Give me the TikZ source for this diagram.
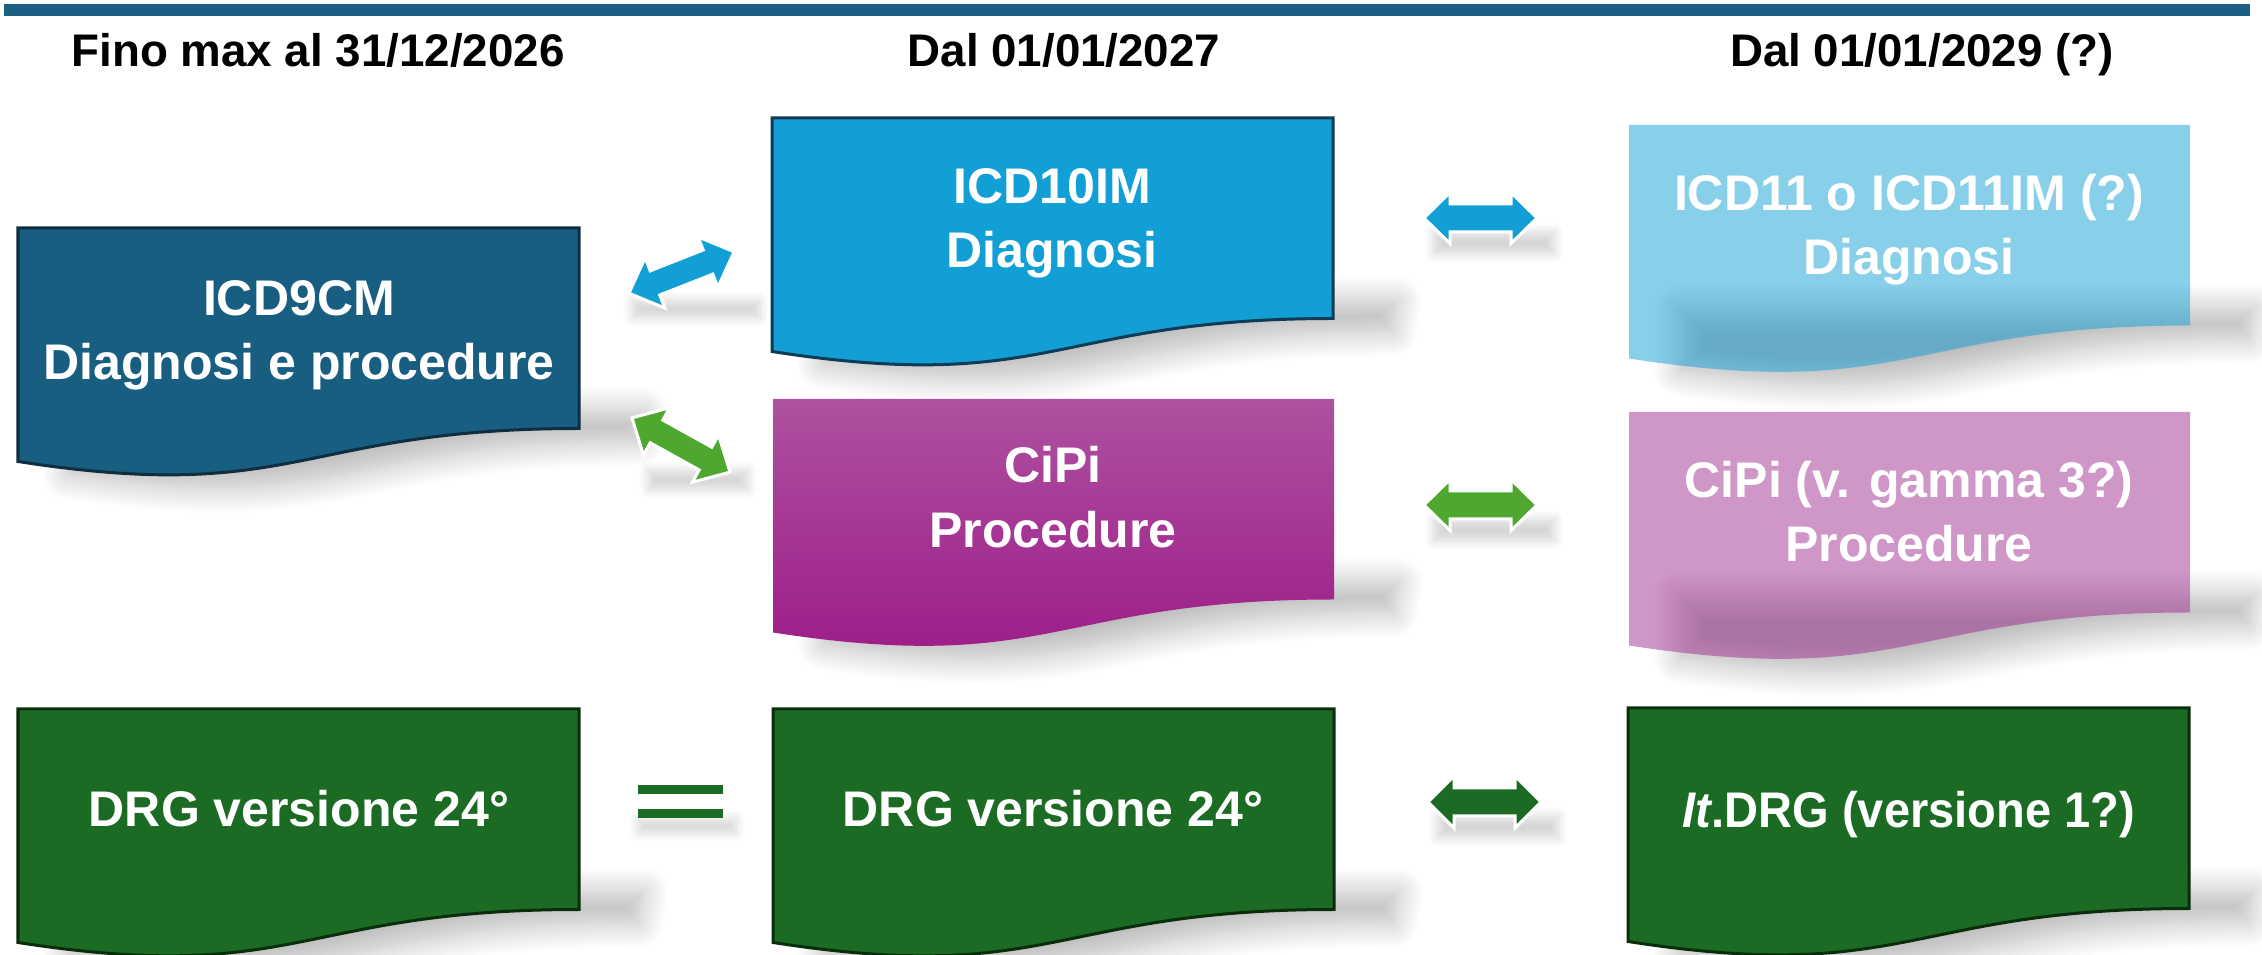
\documentclass[tikz,border=0pt]{standalone}
\usepackage{fontspec}
\setmainfont{Liberation Sans}
\usepackage{graphicx}
\usetikzlibrary{shadows.blur}
\definecolor{bar}{HTML}{1B5F82}
\definecolor{c1}{HTML}{185E80}
\definecolor{c1d}{HTML}{0F2E3F}
\definecolor{c2}{HTML}{129FD6}
\definecolor{c2d}{HTML}{0E3B55}
\definecolor{pt}{HTML}{AD52A0}
\definecolor{pb}{HTML}{9C1886}
\definecolor{pm}{HTML}{9F2D91}
\definecolor{dg}{HTML}{1B6B24}
\definecolor{dgd}{HTML}{0A2E0C}
\definecolor{lg}{HTML}{4EA72E}
% document shape, width 561, height 250, top-left (#1,#2), y downwards
\newcommand\docp[2]{(#1,#2) -- ({#1+561},#2) -- ({#1+561},{#2+200.5}) .. controls ({#1+280.5},{#2+200.5}) and ({#1+280.5},{#2+276.9}) .. (#1,{#2+233.5}) -- cycle}
% shadow band of a document shape
\newcommand\shp[2]{({#1+50},{#2+184}) -- ({#1+625},{#2+184}) -- ({#1+620},{#2+213}) .. controls ({#1+330},{#2+213}) and ({#1+330},{#2+289}) .. ({#1+50},{#2+246}) -- cycle}
% double block arrow: length, head height, shaft thickness, head length
\newcommand\dbl[4]{({-#1/2},0) -- ({-#1/2+#4},{-#2/2}) -- ({-#1/2+#4},{-#3/2}) -- ({#1/2-#4},{-#3/2}) -- ({#1/2-#4},{-#2/2}) -- ({#1/2},0) -- ({#1/2-#4},{#2/2}) -- ({#1/2-#4},{#3/2}) -- ({-#1/2+#4},{#3/2}) -- ({-#1/2+#4},{#2/2}) -- cycle}
\tikzset{
  bt/.style={text=white,font=\fontsize{14.23}{18}\selectfont\bfseries,anchor=base,inner sep=0pt},
  hd/.style={text=black,font=\fontsize{13}{16}\selectfont\bfseries,anchor=base,inner sep=0pt},
  boxline/.style={line width=0.03cm},
  blk/.style={draw=white,line width=0.03cm,line join=miter},
  bsh/.style={blur shadow={shadow xshift=0pt,shadow yshift=0pt,shadow blur radius=0.26cm,shadow blur steps=16,shadow opacity=28}},
  ash/.style={blur shadow={shadow xshift=0pt,shadow yshift=0pt,shadow blur radius=0.09cm,shadow blur steps=10,shadow opacity=16}}
}
\begin{document}
\begin{tikzpicture}[x=0.01cm,y=-0.01cm]
\useasboundingbox (0,0) rectangle (2262,955);
% top bar
\fill[bar] (4,4) rectangle (2250,16);
% headings
\node[hd] (h1) at (318,67) {Fino max al 31/12/2026};
\node[hd] (h2) at (1064,67) {Dal 01/01/2027};
\node[hd] (h3) at (1922,67) {Dal 01/01/2029 (?)};
% shadows of boxes
\path[bsh] \shp{18}{228};
\path[bsh] \shp{772}{118};
\path[bsh] \shp{773}{399};
\path[bsh] \shp{18}{709};
\path[bsh] \shp{773}{709};
\path[bsh] \shp{1628}{708};
\path[bsh] \shp{1629}{125};
\path[bsh] \shp{1629}{412};
% boxes
\draw[fill=c1,draw=c1d,boxline] \docp{18}{228};
\draw[fill=c2,draw=c2d,boxline] \docp{772}{118};
\shade[top color=pt,bottom color=pb] \docp{773}{399};
\draw[fill=dg,draw=dgd,boxline] \docp{18}{709};
\draw[fill=dg,draw=dgd,boxline] \docp{773}{709};
\draw[fill=dg,draw=dgd,boxline] \docp{1628}{708};
\fill[c2,opacity=0.5] \docp{1629}{125};
\fill[pm,opacity=0.5] \docp{1629}{412};
% arrow shadows
\path[ash] (632,300) rectangle (760,318);
\path[ash] (648,470) rectangle (748,490);
\path[ash] (1433,232) rectangle (1555,254);
\path[ash] (1433,519) rectangle (1555,541);
\path[ash] (1437,816) rectangle (1559,838);
\path[ash] (638,819) rectangle (736,833);
% arrows
\draw[blk,fill=c2,shift={(681.5,272.5)},rotate=21.5] \dbl{113}{54}{26}{28};
\draw[blk,fill=lg,shift={(681,445)},rotate=-29] \dbl{112}{54}{26}{28};
\draw[blk,fill=c2,shift={(1480.5,218)}] \dbl{113}{51}{28}{26};
\draw[blk,fill=lg,shift={(1480.5,505)}] \dbl{113}{51}{28}{26};
\draw[blk,fill=dg,shift={(1484.5,802)}] \dbl{113}{52}{28}{26};
% equals sign
\fill[dg] (638,785) rectangle (723,794);
\fill[dg] (638,809) rectangle (723,818);
% box texts
\node[bt] (t1a) at (299,316) {ICD9CM};
\node[bt] (t1b) at (299,380) {Diagnosi e procedure};
\node[bt] (t2a) at (1052,204) {ICD10IM};
\node[bt] (t2b) at (1052,268) {Diagnosi};
\node[bt] (t3a) at (1053,483) {CiPi};
\node[bt] (t3b) at (1053,548) {Procedure};
\node[bt] (t4) at (299,827) {DRG versione 24°};
\node[bt] (t5) at (1053,827) {DRG versione 24°};
\node[bt] (t6) at (1909,828) {\scalebox{0.94}[1]{\textit{It}.DRG (versione 1?)}};
\node[bt] (t7a) at (1909,211) {ICD11 o ICD11IM (?)};
\node[bt] (t7b) at (1909,275) {Diagnosi};
\node[bt] (t8a) at (1909,498) {CiPi (v. gamma 3?)};
\node[bt] (t8b) at (1909,562) {Procedure};
\end{tikzpicture}
\end{document}
